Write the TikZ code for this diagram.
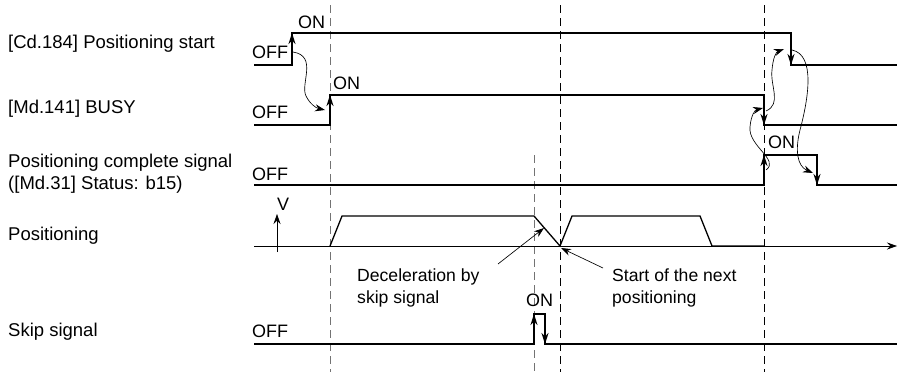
\documentclass[tikz,border=0pt]{standalone}
\usepackage{fontspec}
\setmainfont{Liberation Sans}
\usetikzlibrary{arrows.meta}
\begin{document}
\begin{tikzpicture}[x=1pt,y=-1pt,
  txt/.style={font=\fontsize{18}{22}\selectfont, inner sep=0pt, anchor=base west},
  lab/.style={txt, font=\fontsize{18.5}{22}\selectfont},
  ann/.style={txt, font=\fontsize{17.6}{22}\selectfont},
  sig/.style={line width=1.9pt, line join=miter},
  prof/.style={line width=1.3pt},
  thin/.style={line width=0.65pt},
  dsh/.style={line width=0.9pt, dash pattern=on 8pt off 5pt},
  gdsh/.style={dsh, draw=black!55},
  arr/.style={-{Stealth[length=11pt,width=7pt]}},
  sarr/.style={-{Stealth[length=10pt,width=7pt]}}]
\useasboundingbox (0,0) rectangle (908,372);

% left labels
\node[lab] (l1) at (8,48) {[Cd.184] Positioning start};
\node[lab] (l2) at (8,113) {[Md.141] BUSY};
\node[lab] (l3a) at (8,167) {Positioning complete signal};
\node[lab] (l3b) at (8,189) {([Md.31] Status: b15)};
\node[lab] (l4) at (8,240) {Positioning};
\node[lab] (l5) at (8,336) {Skip signal};

% dashed timing lines
\draw[gdsh] (330,5) -- (330,372);
\draw[dsh] (560,5) -- (560,372);
\draw[dsh] (764,5) -- (764,372);
\draw[gdsh] (534,155) -- (534,372);

% ON/OFF labels
\node[txt] (on1) at (298,28) {ON};
\node[txt] (off1) at (252,58) {OFF};
\node[txt] (on2) at (333,89) {ON};
\node[txt] (off2) at (252,118) {OFF};
\node[txt] (on3) at (768,148) {ON};
\node[txt] (off3) at (252,180) {OFF};
\node[txt] (off5) at (252,337) {OFF};
\node[txt] (on5) at (526,306) {ON};
\node[txt] (v) at (277,210) {V};

% coordinates of signal edges
\coordinate (c1l) at (292,65); \coordinate (c1h) at (292,33);
\coordinate (c2h) at (791,33); \coordinate (c2l) at (791,65);
\coordinate (b1l) at (330,125); \coordinate (b1h) at (330,95);
\coordinate (b2h) at (764,95); \coordinate (b2l) at (764,125);
\coordinate (p1l) at (764,185); \coordinate (p1h) at (764,155);
\coordinate (p2h) at (817,155); \coordinate (p2l) at (817,185);
\coordinate (s1l) at (534,344); \coordinate (s1h) at (534,314);
\coordinate (s2h) at (545,314); \coordinate (s2l) at (545,344);

% signals
\draw[sig] (254,65) -- (c1l) -- (c1h) -- (c2h) -- (c2l) -- (897,65);
\draw[sig] (254,125) -- (b1l) -- (b1h) -- (b2h) -- (b2l) -- (897,125);
\draw[sig] (254,185) -- (p1l) -- (p1h) -- (p2h) -- (p2l) -- (897,185);
\draw[sig] (254,344) -- (s1l) -- (s1h) -- (s2h) -- (s2l) -- (897,344);

% edge arrows
\draw[sig,arr] (c1l) -- (c1h);
\draw[sig,arr] (c2h) -- (c2l);
\draw[sig,arr] (b1l) -- (b1h);
\draw[sig,arr] (b2h) -- (b2l);
\draw[sig,arr] (p1l) -- (p1h);
\draw[sig,arr] (p2h) -- (p2l);
\draw[sig,arr] (s1l) -- (s1h);
\draw[sig,arr] (s2h) -- (s2l);

% positioning axis and profile
\coordinate (ax0) at (254,246); \coordinate (ax1) at (897,246);
\draw[thin,sarr] (ax0) -- (ax1);
\coordinate (vb) at (277,252); \coordinate (vt) at (277,214);
\draw[thin,sarr] (vb) -- (vt);
\coordinate (d1) at (534,216); \coordinate (d2) at (560,246);
\draw[prof] (330,246) -- (342,216) -- (d1) -- (d2) -- (572,216) -- (700,216) -- (712,246) -- (764,246);

% leader labels
\node[ann] (dec1) at (357,281) {Deceleration by};
\node[ann] (dec2) at (357,303) {skip signal};
\node[ann] (st1) at (612,281) {Start of the next};
\node[ann] (st2) at (612,303) {positioning};
\coordinate (decA) at (498,264); \coordinate (decB) at (544,228);
\coordinate (stA) at (603,268); \coordinate (stB) at (561,248);
\draw[thin,sarr] (decA) -- (decB);
\draw[thin,sarr] (stA) -- (stB);

% curved cause arrows
\draw[thin,sarr] (293,52) .. controls (318,56) and (300,84) .. (306,96) .. controls (310,104) and (316,108) .. (325,110);
\draw[thin,sarr] (766,170) .. controls (780,160) and (748,146) .. (750,127) .. controls (751,115) and (755,110) .. (763,108);
\draw[thin,sarr] (766,111) .. controls (782,104) and (770,86) .. (772,70) .. controls (773,58) and (776,52) .. (784,49);
\draw[thin,sarr] (792,50) .. controls (816,55) and (808,100) .. (800,130) .. controls (795,150) and (797,166) .. (813,173);
\end{tikzpicture}
\end{document}
